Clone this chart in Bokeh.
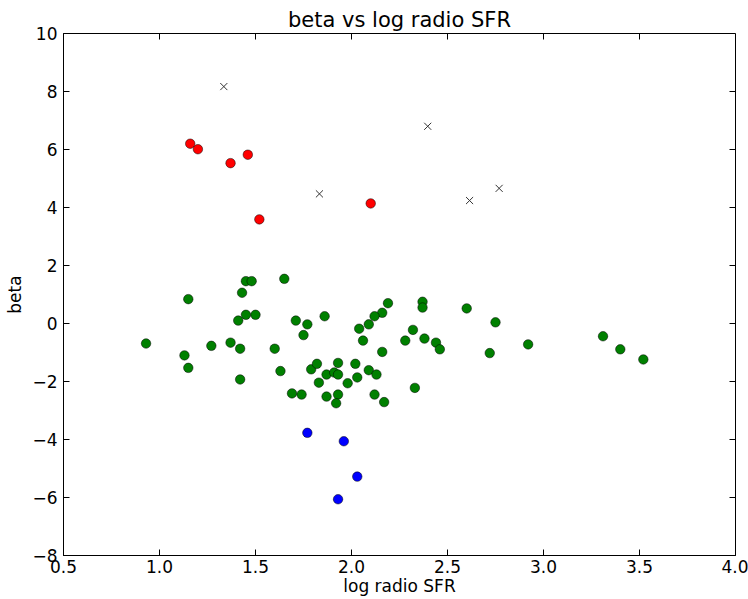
import math
from bokeh.plotting import figure
from bokeh.models import Range1d, FixedTicker, NumeralTickFormatter, CustomJSTickFormatter
from bokeh.embed import file_html
from bokeh.resources import INLINE

green_x = [0.93, 1.15, 1.13, 1.15, 1.27, 1.37, 1.42, 1.42, 1.41, 1.45, 1.50, 1.43, 1.45, 1.48, 1.65,
           1.60, 1.63, 1.71, 1.77, 1.75, 1.86, 1.69, 1.74, 1.79, 1.82, 1.83, 1.87, 1.93, 1.87, 1.91,
           1.93, 1.93, 1.92, 1.98, 2.19, 2.16, 2.12, 2.09, 2.04, 2.06, 2.16, 2.37, 2.37, 2.60, 2.75,
           2.32, 2.28, 2.38, 2.44, 2.46, 2.72, 2.92, 2.02, 2.03, 2.09, 2.13, 2.12, 2.17, 2.33, 3.31,
           3.40, 3.52]
green_y = [-0.69, 0.84, -1.10, -1.53, -0.77, -0.66, -0.87, -1.93, 0.10, 0.30, 0.30, 1.06, 1.46, 1.46, 1.54,
           -0.87, -1.64, 0.10, -0.03, -0.40, 0.25, -2.41, -2.45, -1.58, -1.39, -2.04, -2.52, -1.36, -1.76, -1.69,
           -1.76, -2.45, -2.75, -2.06, 0.70, 0.37, 0.25, -0.03, -0.18, -0.59, -0.98, 0.75, 0.55, 0.52, 0.04,
           -0.22, -0.59, -0.52, -0.66, -0.89, -1.02, -0.72, -1.39, -1.86, -1.61, -1.76, -2.45, -2.71, -2.22, -0.44,
           -0.89, -1.24]
red_x = [1.16, 1.20, 1.37, 1.46, 1.52, 2.10]
red_y = [6.20, 6.01, 5.53, 5.82, 3.59, 4.14]
blue_x = [1.77, 1.96, 2.03, 1.93]
blue_y = [-3.77, -4.06, -5.28, -6.06]
cross_x = [1.335, 1.833, 2.397, 2.615, 2.769]
cross_y = [8.17, 4.47, 6.80, 4.24, 4.66]

x_ticks = [0.5, 1.0, 1.5, 2.0, 2.5, 3.0, 3.5, 4.0]
y_ticks = [-8, -6, -4, -2, 0, 2, 4, 6, 8, 10]
x_lo, x_hi = 0.5, 4.0
y_lo, y_hi = -8, 10

FONT = "DejaVu Sans"

p = figure(width=748, height=599, output_backend="svg", toolbar_location=None,
           x_range=Range1d(x_lo, x_hi), y_range=Range1d(y_lo, y_hi),
           min_border_left=63, min_border_right=13, min_border_top=33, min_border_bottom=44,
           title="beta vs log radio SFR")
p.background_fill_color = "white"
p.border_fill_color = "white"
p.outline_line_color = "black"
p.outline_line_width = 1
p.xgrid.visible = False
p.ygrid.visible = False

p.title.text_font = FONT
p.title.text_font_size = "21px"
p.title.text_font_style = "normal"
p.title.align = "center"
p.title.text_color = "black"
p.title.standoff = 4


def style_axis(ax):
    ax.major_tick_in = 6
    ax.major_tick_out = 0
    ax.minor_tick_in = 0
    ax.minor_tick_out = 0
    ax.axis_line_color = "black"
    ax.major_tick_line_color = "black"
    ax.major_label_text_font = FONT
    ax.major_label_text_color = "black"
    ax.major_label_text_font_size = "17px"
    ax.axis_label_text_font = FONT
    ax.axis_label_text_font_size = "17px"
    ax.axis_label_text_font_style = "normal"
    ax.axis_label_text_color = "black"


xa = p.xaxis[0]
xa.ticker = FixedTicker(ticks=x_ticks)
xa.formatter = NumeralTickFormatter(format="0.0")
style_axis(xa)
xa.major_label_standoff = 4
xa.axis_label = "log radio SFR"
xa.axis_label_standoff = 0

ya = p.yaxis[0]
ya.ticker = FixedTicker(ticks=y_ticks)
ya.formatter = CustomJSTickFormatter(code="return tick < 0 ? '\u2212' + Math.abs(tick) : tick.toString();")
style_axis(ya)
ya.major_label_standoff = 6
ya.axis_label = "beta"
ya.axis_label_standoff = 4

# inward ticks on the top and right edges of the frame (matplotlib classic style)
p.ray(x=x_ticks, y=[y_hi] * len(x_ticks), length=6, length_units="screen",
      angle=-math.pi / 2, line_color="black", line_width=1)
p.ray(x=[x_hi] * len(y_ticks), y=y_ticks, length=6, length_units="screen",
      angle=math.pi, line_color="black", line_width=1)

p.scatter(green_x, green_y, size=9.5, fill_color="#008000", line_color="black", line_width=0.5)
p.scatter(red_x, red_y, size=9.5, fill_color="#ff0000", line_color="black", line_width=0.5)
p.scatter(blue_x, blue_y, size=9.5, fill_color="#0000ff", line_color="black", line_width=0.5)
p.scatter(cross_x, cross_y, marker="x", size=10, line_color="#333333", line_width=1)

open("out.html", "w").write(file_html(p, INLINE))
